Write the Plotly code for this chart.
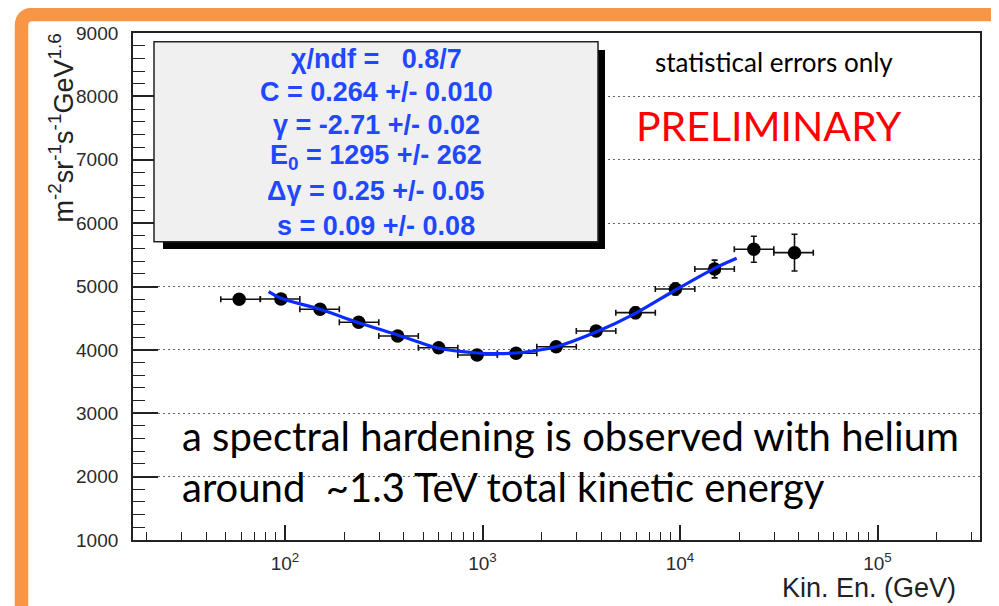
import plotly.graph_objects as go

# ---------------- data ----------------
energy = [58.6, 95.4, 150.5, 236, 372, 600, 939, 1479, 2361, 3760, 5954, 9485, 14970, 23650, 38000]
flux = [4800, 4803, 4640, 4435, 4219, 4034, 3919, 3946, 4050, 4298, 4587, 4961, 5276, 5587, 5534]
flux_err = [25, 25, 25, 30, 30, 35, 40, 45, 55, 70, 90, 95, 140, 205, 290]
bin_edges = [47.3, 75.0, 118.9, 188.4, 298.5, 473.2, 750, 1189, 1884, 2985, 4732, 7499,
             11885, 18836, 29854, 47315]

fit_energy = [82.6, 95.4, 150.5, 236, 372, 600, 942, 1200, 1480, 1795, 2360, 3760, 5950, 9485, 14970, 19360]
fit_flux = [4918, 4814, 4640, 4429, 4235, 4025, 3951, 3940, 3951, 3982, 4050, 4282, 4577, 4945, 5287, 5445]

x_tick_vals = [100, 1000, 10000, 100000]
x_tick_text = ["10<sup>2</sup>", "10<sup>3</sup>", "10<sup>4</sup>", "10<sup>5</sup>"]
y_tick_vals = [1000, 2000, 3000, 4000, 5000, 6000, 7000, 8000, 9000]

stat_lines = [
    "χ/ndf =   0.8/7",
    "C = 0.264 +/- 0.010",
    "γ = -2.71 +/- 0.02",
    "E<sub>0</sub> = 1295 +/- 262",
    "Δγ = 0.25 +/- 0.05",
    "s = 0.09 +/- 0.08",
]

err_plus = [bin_edges[i + 1] - e for i, e in enumerate(energy)]
err_minus = [e - bin_edges[i] for i, e in enumerate(energy)]

# ---------------- layout helpers (screen pixel -> paper) ----------------
OFF = 8  # page body margin
W, H = 999 - OFF, 606 - OFF
L, R, T, B = 133, 980, 33, 540   # plot area in screen pixels


def px(x):
    return (x - L) / (R - L)


def py(y):
    return (B - y) / (B - T)


fig = go.Figure()

fig.add_trace(go.Scatter(
    x=energy, y=flux, mode="markers",
    marker=dict(color="black", size=13.5),
    error_x=dict(type="data", symmetric=False, array=err_plus, arrayminus=err_minus,
                 color="#111", thickness=1.6, width=3),
    error_y=dict(type="data", array=flux_err, color="#111", thickness=1.6, width=3),
    showlegend=False, hoverinfo="skip",
))

fig.add_trace(go.Scatter(
    x=fit_energy, y=fit_flux, mode="lines",
    line=dict(color="#0a2cff", width=3.2, shape="spline", smoothing=0.8),
    showlegend=False, hoverinfo="skip",
))

axis_font = dict(family="Liberation Sans, Arial, sans-serif", size=19, color="#2a2a2a")

fig.update_xaxes(
    type="log", range=[1.2304, 5.519],
    tickmode="array", tickvals=x_tick_vals, ticktext=x_tick_text,
    ticks="inside", ticklen=15, tickwidth=1.5, tickcolor="#222",
    minor=dict(ticks="inside", ticklen=8, tickwidth=1.3, tickcolor="#222", dtick="D1", showgrid=False),
    showline=True, linecolor="#222", linewidth=1.8, mirror=True,
    showgrid=False, zeroline=False, tickfont=axis_font, ticklabelstandoff=5,
)
fig.update_yaxes(
    range=[1000, 9000],
    tickmode="array", tickvals=y_tick_vals,
    ticks="inside", ticklen=25, tickwidth=1.5, tickcolor="#222",
    minor=dict(ticks="inside", ticklen=12, tickwidth=1.3, tickcolor="#222", dtick=200, showgrid=False),
    showline=True, linecolor="#222", linewidth=1.8, mirror=True,
    showgrid=True, gridcolor="#666", griddash="2px,3px", gridwidth=1.3,
    zeroline=False, tickfont=axis_font, ticklabelstandoff=9,
)

shapes = []
# orange frame
shapes.append(dict(
    type="path", xref="paper", yref="paper", layer="above",
    path=(f"M {px(21.5)} {py(700)} L {px(21.5)} {py(26)} "
          f"Q {px(21.5)} {py(14.5)} {px(33)} {py(14.5)} L {px(1100)} {py(14.5)}"),
    line=dict(color="#F79646", width=13.5),
))
# stats box shadow + box
shapes.append(dict(type="rect", xref="paper", yref="paper", layer="above",
                   x0=px(163), x1=px(605), y0=py(50), y1=py(249),
                   fillcolor="black", line=dict(width=0)))
shapes.append(dict(type="rect", xref="paper", yref="paper", layer="above",
                   x0=px(154), x1=px(598), y0=py(41.7), y1=py(241.7),
                   fillcolor="#f0f0f0", line=dict(color="#222", width=1.5)))

annotations = []
stat_y = [59, 92, 125, 157, 191, 226]
for txt, yy in zip(stat_lines, stat_y):
    annotations.append(dict(
        text=f"<b>{txt}</b>", xref="paper", yref="paper", x=px(376), y=py(yy),
        xanchor="center", yanchor="middle", showarrow=False,
        font=dict(family="Liberation Sans, Arial, sans-serif", size=27, color="#1f48ff"),
    ))

annotations.append(dict(
    text="statistical errors only", xref="paper", yref="paper", x=px(653), y=py(62),
    xanchor="left", yanchor="middle", showarrow=False,
    font=dict(family="Lato, sans-serif", size=26, color="black"),
))
annotations.append(dict(
    text="PRELIMINARY", xref="paper", yref="paper", x=px(634), y=py(125),
    xanchor="left", yanchor="middle", showarrow=False,
    font=dict(family="Lato, sans-serif", size=41, color="#ff0000"),
))
annotations.append(dict(
    text="a spectral hardening is observed with helium", xref="paper", yref="paper",
    x=px(180), y=py(436), xanchor="left", yanchor="middle", showarrow=False,
    font=dict(family="Lato, sans-serif", size=40, color="black"),
))
annotations.append(dict(
    text="around  ~1.3 TeV total kinetic energy", xref="paper", yref="paper",
    x=px(180), y=py(487), xanchor="left", yanchor="middle", showarrow=False,
    font=dict(family="Lato, sans-serif", size=40, color="black"),
))
annotations.append(dict(
    text="Kin. En. (GeV)", xref="paper", yref="paper", x=px(958), y=py(588),
    xanchor="right", yanchor="middle", showarrow=False,
    font=dict(family="Liberation Sans, Arial, sans-serif", size=27, color="#222"),
))
annotations.append(dict(
    text="m<sup>-2</sup>sr<sup>-1</sup>s<sup>-1</sup>GeV<sup>1.6</sup>", xref="paper", yref="paper",
    x=px(61), y=py(32), xanchor="center", yanchor="top", textangle=-90, showarrow=False,
    font=dict(family="Liberation Sans, Arial, sans-serif", size=27, color="#222"),
))

fig.update_layout(
    width=W, height=H,
    margin=dict(l=L - OFF, r=W - (R - OFF), t=T - OFF, b=H - (B - OFF)),
    paper_bgcolor="white", plot_bgcolor="white",
    shapes=shapes, annotations=annotations,
)

fig.write_html("out.html")
